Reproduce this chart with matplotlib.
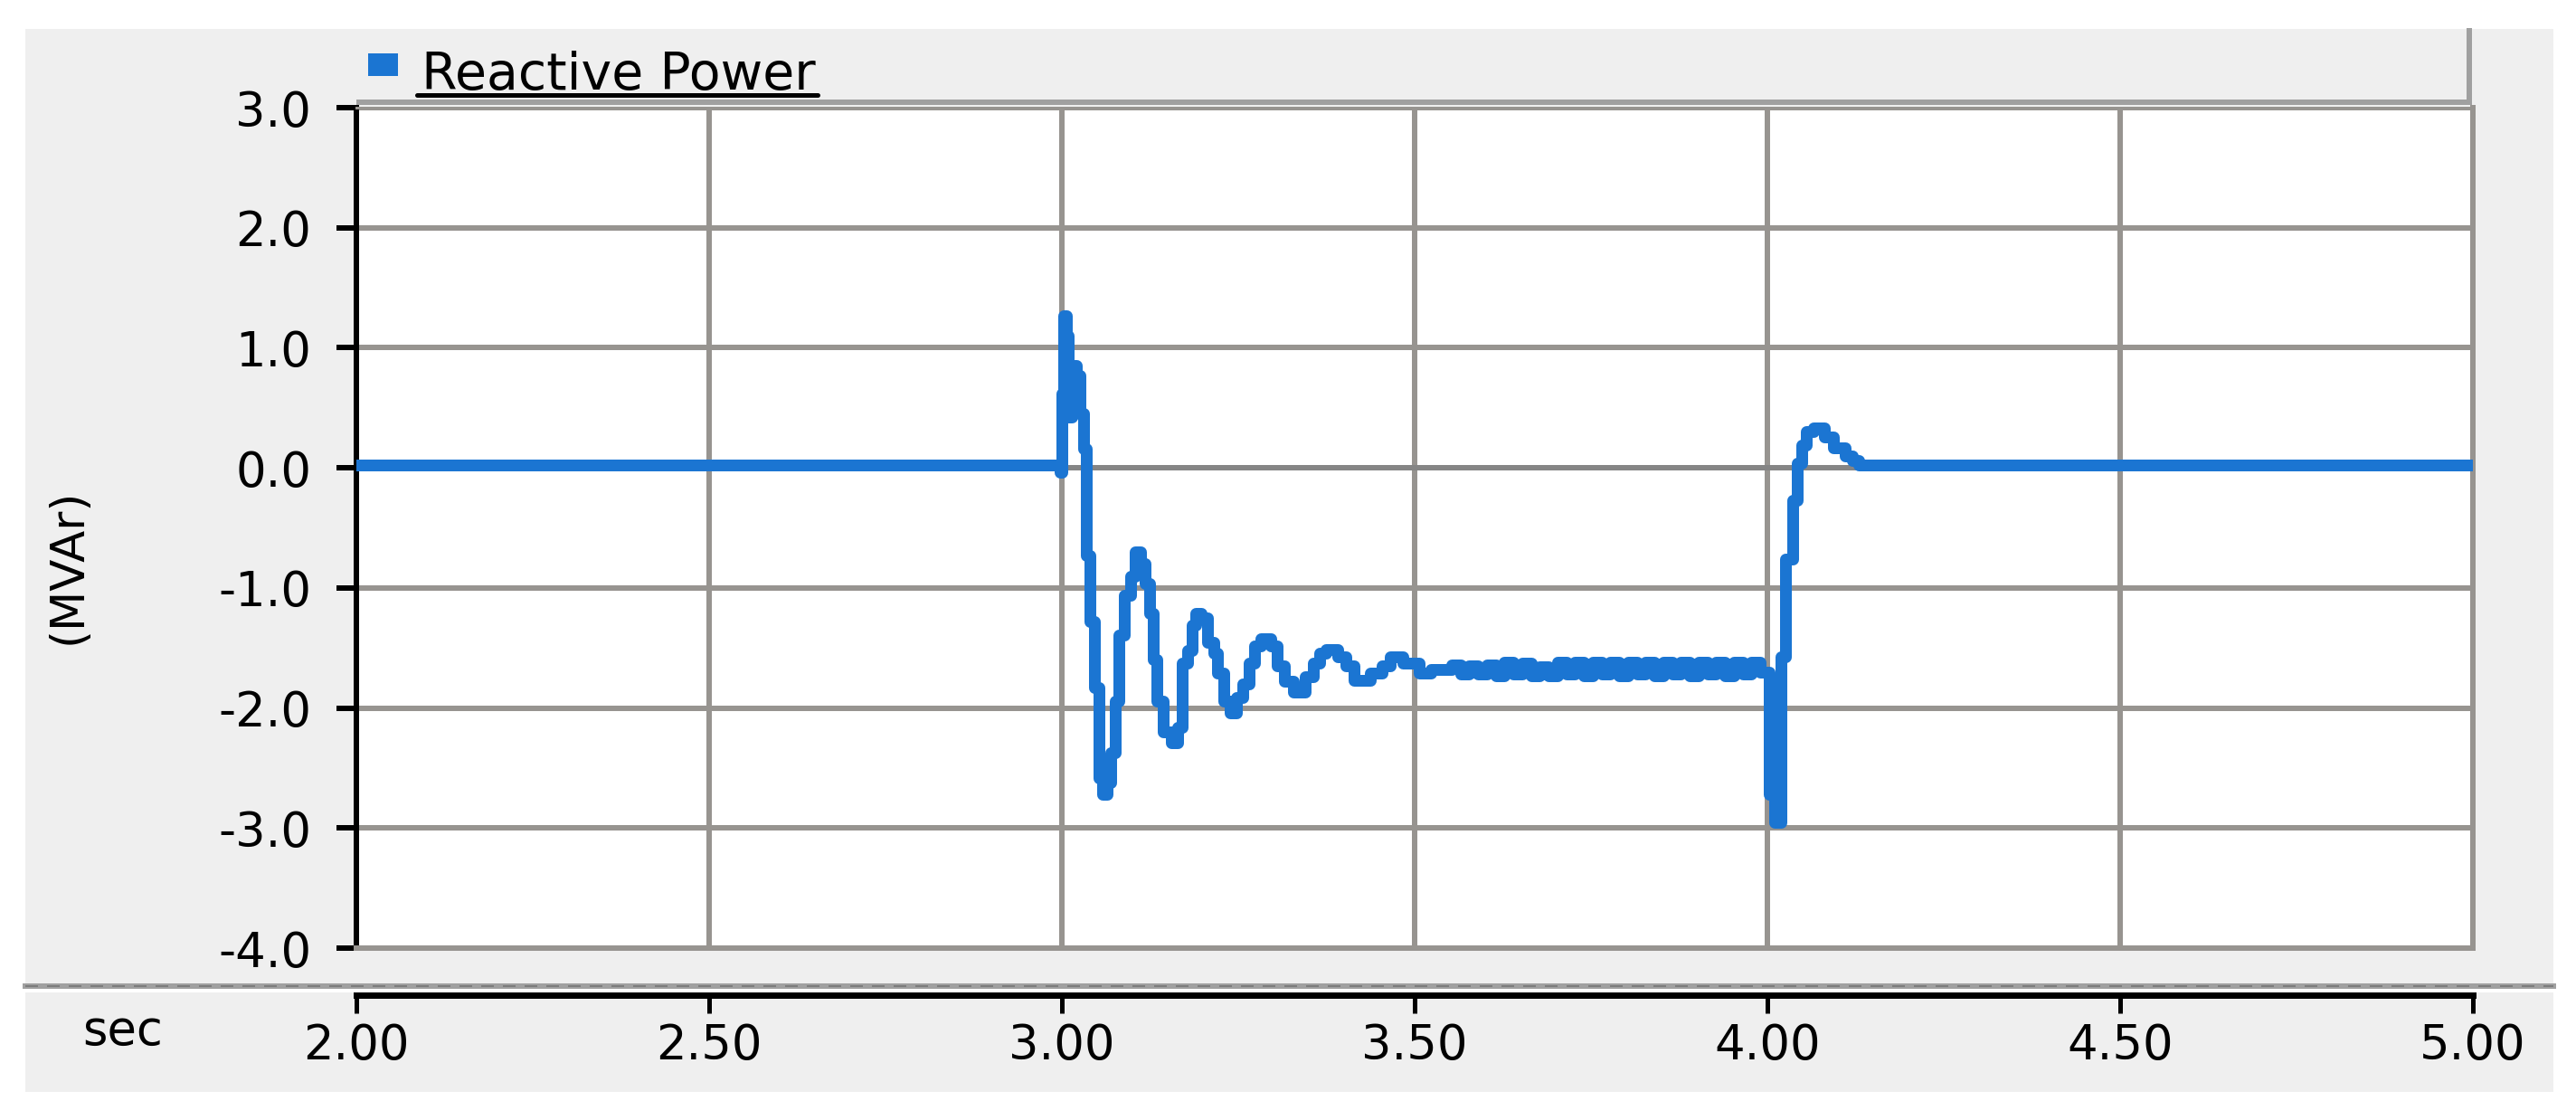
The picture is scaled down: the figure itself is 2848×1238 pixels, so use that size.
import matplotlib
matplotlib.use("Agg")
import matplotlib.pyplot as plt
from matplotlib.patches import Rectangle
from matplotlib.lines import Line2D

# ---- data ----
series_name = "Reactive Power"
y_label = "(MVAr)"
x_label = "sec"

# disturbance at 3.0 s
t_fault = [2.000, 2.997, 3.000, 3.003, 3.006, 3.009, 3.014, 3.020, 3.026, 3.031,
           3.035, 3.040, 3.046, 3.052, 3.058, 3.064, 3.069, 3.075, 3.081, 3.089,
           3.098, 3.104, 3.112, 3.118, 3.124, 3.129, 3.135, 3.144, 3.155, 3.164,
           3.170, 3.178, 3.184, 3.190, 3.198, 3.207, 3.216, 3.221, 3.230, 3.239,
           3.247, 3.256, 3.265, 3.273, 3.282, 3.296, 3.305, 3.316, 3.328, 3.345,
           3.357, 3.365, 3.374, 3.391, 3.403, 3.414, 3.437, 3.454, 3.466, 3.483,
           3.506, 3.523]
q_fault = [0.02, -0.04, 0.62, 1.27, 1.10, 0.42, 0.85, 0.77, 0.45, 0.16,
           -0.73, -1.28, -1.83, -2.58, -2.72, -2.62, -2.37, -1.94, -1.39, -1.06,
           -0.90, -0.70, -0.80, -0.96, -1.21, -1.60, -1.94, -2.20, -2.29, -2.16,
           -1.63, -1.52, -1.31, -1.21, -1.25, -1.45, -1.54, -1.71, -1.94, -2.04,
           -1.91, -1.80, -1.63, -1.48, -1.42, -1.48, -1.65, -1.78, -1.87, -1.74,
           -1.63, -1.54, -1.51, -1.57, -1.65, -1.77, -1.71, -1.65, -1.57, -1.63,
           -1.71, -1.68]

# settled part with small chatter
t_steady = [3.552, 3.565, 3.577, 3.590, 3.602, 3.615, 3.627, 3.640, 3.652, 3.665,
            3.677, 3.690, 3.702, 3.715, 3.727, 3.740, 3.752, 3.765, 3.777, 3.790,
            3.802, 3.815, 3.827, 3.840, 3.852, 3.865, 3.877, 3.890, 3.902, 3.915,
            3.927, 3.940, 3.952, 3.965, 3.977, 3.990]
q_steady = [-1.64, -1.72, -1.65, -1.72, -1.64, -1.73, -1.62, -1.72, -1.63, -1.73,
            -1.66, -1.73, -1.62, -1.72, -1.62, -1.73, -1.62, -1.72, -1.62, -1.73,
            -1.62, -1.72, -1.62, -1.73, -1.62, -1.72, -1.62, -1.73, -1.62, -1.72,
            -1.62, -1.73, -1.62, -1.72, -1.62, -1.70]

# clearing at 4.0 s
t_clear = [4.003, 4.010, 4.019, 4.026, 4.036, 4.042, 4.049, 4.055, 4.065, 4.081,
           4.094, 4.110, 4.120, 4.129, 5.000]
q_clear = [-2.72, -2.95, -1.57, -0.76, -0.27, 0.04, 0.19, 0.30, 0.33, 0.26,
           0.17, 0.10, 0.06, 0.02, 0.02]

x_ticks = [2.0, 2.5, 3.0, 3.5, 4.0, 4.5, 5.0]
x_ticklabels = ["2.00", "2.50", "3.00", "3.50", "4.00", "4.50", "5.00"]
y_ticks = [-4, -3, -2, -1, 0, 1, 2, 3]
y_ticklabels = ["-4.0", "-3.0", "-2.0", "-1.0", "0.0", "1.0", "2.0", "3.0"]

# ---- figure geometry (pixels of the 2848x1238 canvas) ----
W, H = 2848, 1238
DPI = 100
PT = 72.0 / DPI  # points per pixel

BLUE = "#1b75d2"
GRID = "#979490"
PANEL = "#efefef"
FS = 38


def fx(x):
    return x / W


def fy(y):
    return 1 - y / H


def rect(x0, y0, x1, y1, **kw):
    return Rectangle((fx(x0), fy(y1)), fx(x1) - fx(x0), fy(y0) - fy(y1),
                     transform=fig.transFigure, **kw)


plt.rcParams["font.family"] = ["DejaVu Sans"]
fig = plt.figure(figsize=(W / DPI, H / DPI), dpi=DPI)
fig.patch.set_facecolor("white")

# background panels
fig.add_artist(rect(28, 32, 2823, 1087, facecolor=PANEL, edgecolor="none", zorder=0))
fig.add_artist(rect(28, 1097, 2823, 1207, facecolor=PANEL, edgecolor="none", zorder=0))
fig.add_artist(Line2D([fx(28), fx(2823)], [fy(1090), fy(1090)], transform=fig.transFigure,
                      color="#a0a0a0", lw=6 * PT, zorder=1))
fig.add_artist(Line2D([fx(28), fx(2823)], [fy(1090), fy(1090)], transform=fig.transFigure,
                      color="#7c7c7c", lw=2 * PT, dashes=(7, 5), zorder=1))

# legend strip
fig.add_artist(rect(397, 37, 2730, 112, facecolor=PANEL, edgecolor="none", zorder=1))
fig.add_artist(Line2D([fx(397), fx(2730), fx(2730)], [fy(113), fy(113), fy(34)],
                      transform=fig.transFigure, color="#a0a0a0", lw=6 * PT,
                      solid_joinstyle="miter", zorder=2))
fig.add_artist(rect(407, 59, 440, 84, facecolor=BLUE, edgecolor="none", zorder=3))
fig.text(fx(466), fy(99), series_name, fontsize=FS + 3, ha="left", va="baseline", zorder=3)
fig.add_artist(Line2D([fx(461), fx(904)], [fy(105), fy(105)], transform=fig.transFigure,
                      color="black", lw=5 * PT, solid_capstyle="round", zorder=3))

# main plot
ax = fig.add_axes([fx(394), fy(1048), fx(2734) - fx(394), fy(119) - fy(1048)])
ax.set_facecolor("white")
t_all = t_fault + t_steady + t_clear
q_all = q_fault + q_steady + q_clear
ax.plot(t_all, q_all, drawstyle="steps-post", color=BLUE, lw=13 * PT,
        label=series_name, zorder=3)
ax.axhline(0, color="#858585", lw=6 * PT, zorder=2)

ax.set_xlim(2, 5)
ax.set_ylim(-4, 3)
ax.set_xticks(x_ticks)
ax.set_yticks(y_ticks)
ax.set_yticklabels(y_ticklabels, fontsize=FS)
ax.tick_params(axis="x", length=0, labelbottom=False)
ax.tick_params(axis="y", direction="out", length=22 * PT, width=6 * PT, pad=28 * PT)
ax.grid(True, color=GRID, lw=6 * PT, zorder=1)
ax.set_axisbelow(True)
ax.spines["left"].set_color("black")
ax.spines["left"].set_linewidth(6 * PT)
for side in ("right", "bottom"):
    ax.spines[side].set_color(GRID)
    ax.spines[side].set_linewidth(6 * PT)
ax.spines["top"].set_color(GRID)
ax.spines["top"].set_linewidth(3 * PT)

# time axis in the lower strip
axt = fig.add_axes([fx(394), fy(1100), fx(2734) - fx(394), 0.0005])
axt.patch.set_alpha(0)
axt.set_xlim(2, 5)
axt.set_yticks([])
axt.set_xticks(x_ticks)
axt.set_xticklabels(x_ticklabels, fontsize=FS)
axt.tick_params(axis="x", direction="out", length=20 * PT, width=5 * PT, pad=10 * PT)
for side in ("left", "right", "top"):
    axt.spines[side].set_visible(False)
axt.spines["bottom"].set_linewidth(7 * PT)
axt.spines["bottom"].set_color("black")

fig.text(fx(136), fy(1140), x_label, fontsize=FS, ha="center", va="center")
fig.text(fx(76), fy(626), y_label, fontsize=FS - 1, ha="center", va="center", rotation=90)

fig.savefig("out.png", dpi=DPI)
